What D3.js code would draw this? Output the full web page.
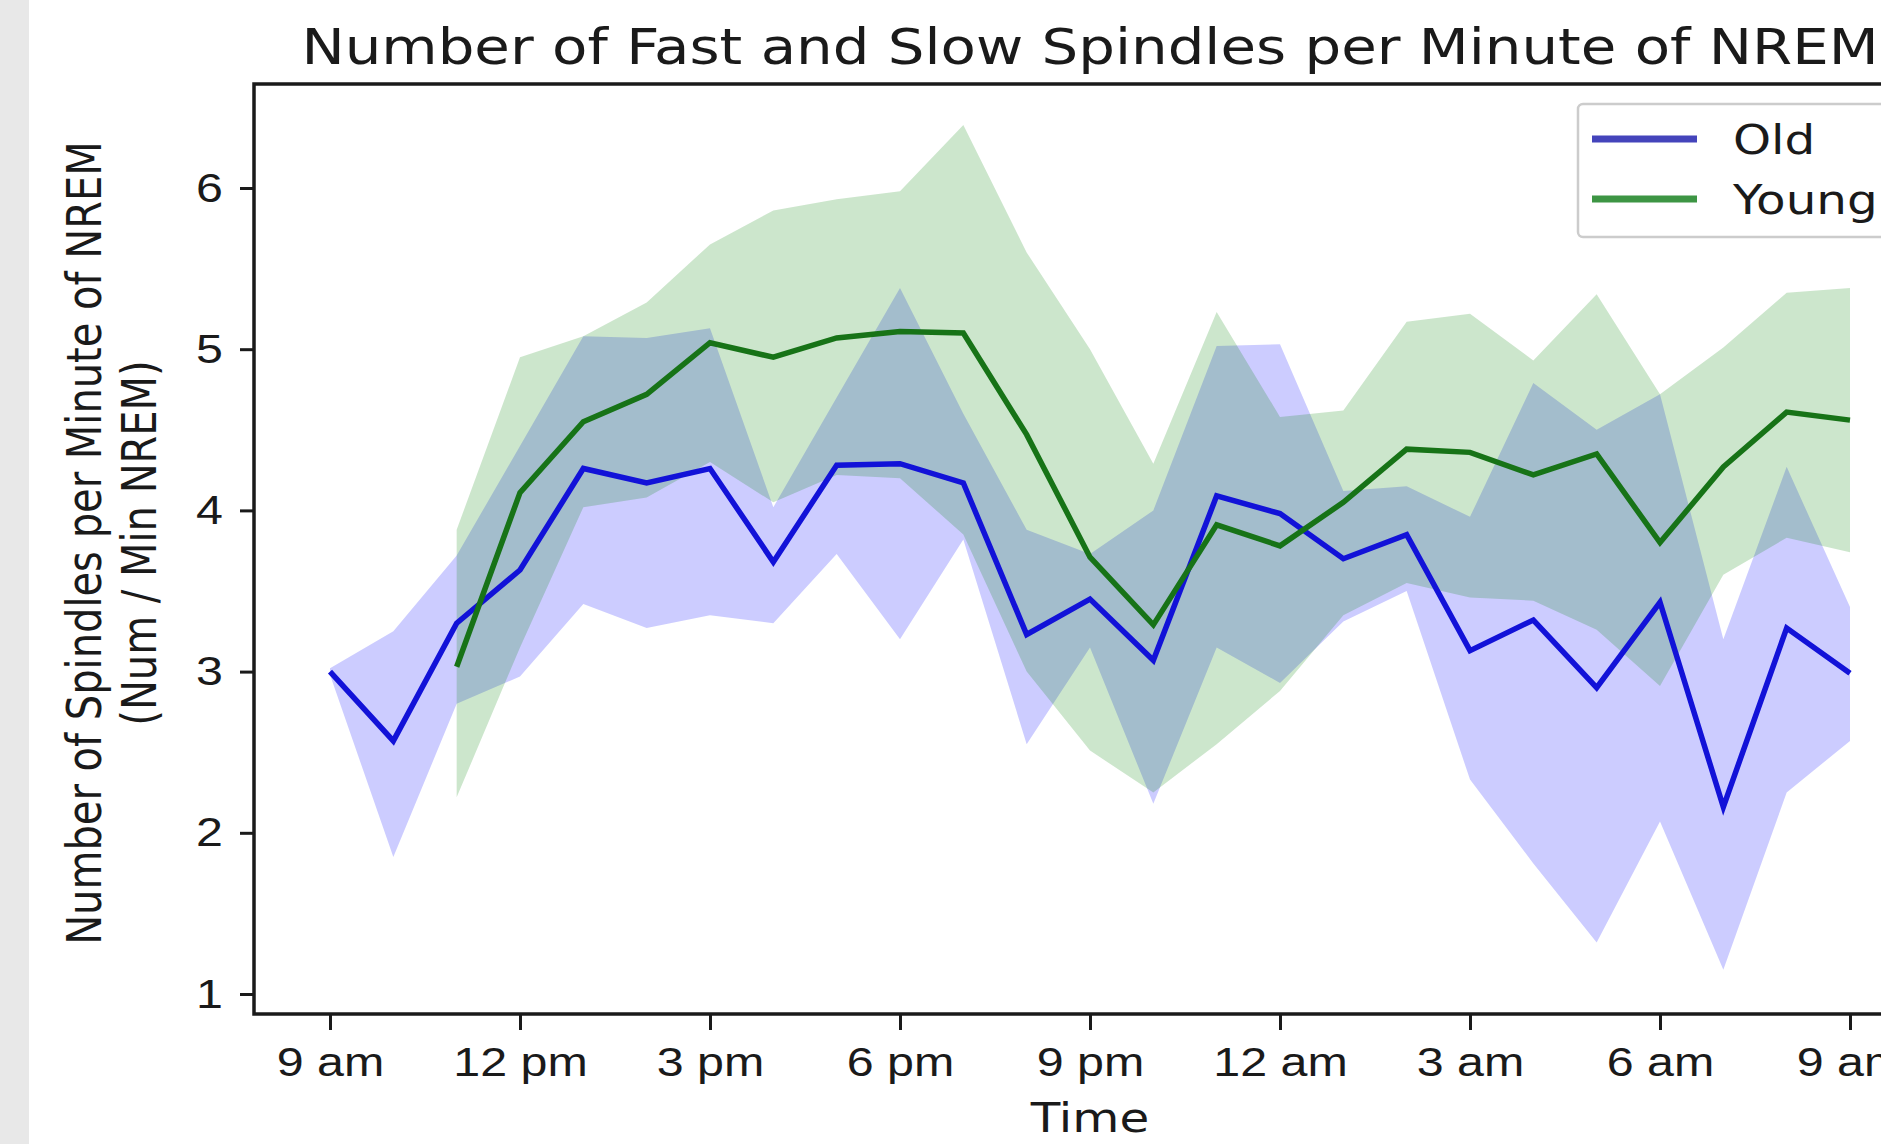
<!DOCTYPE html>
<html>
<head>
<meta charset="utf-8">
<script src="https://cdn.jsdelivr.net/npm/d3@7"></script>
<style>
  body { margin: 0; background: #fff; overflow: hidden; }
  svg { display: block; font-family: "DejaVu Sans", sans-serif; }
</style>
</head>
<body>
<div id="chart"><svg width="1881" height="1144"></svg></div>
<script>
// Hours after 9 am
let hours = [0, 1, 2, 3, 4, 5, 6, 7, 8, 9, 10, 11, 12, 13, 14, 15, 16, 17, 18, 19, 20, 21, 22, 23, 24];
let youngHours = [2, 3, 4, 5, 6, 7, 8, 9, 10, 11, 12, 13, 14, 15, 16, 17, 18, 19, 20, 21, 22, 23, 24];

// Old: mean and confidence band
let oldMean = [3.00, 2.57, 3.30, 3.63, 4.26, 4.17, 4.26, 3.68, 4.28, 4.29, 4.17, 3.23, 3.45,
  3.07, 4.09, 3.98, 3.70, 3.85, 3.13, 3.32, 2.90, 3.43, 2.16, 3.27, 2.99];
let oldLower = [2.98, 1.85, 2.80, 2.97, 3.42, 3.27, 3.35, 3.30, 3.73, 3.20, 3.82, 2.55, 3.15,
  2.18, 3.15, 2.93, 3.31, 3.50, 2.33, 1.81, 1.32, 2.07, 1.15, 2.25, 2.57];
let oldUpper = [3.02, 3.25, 3.72, 4.40, 5.08, 5.07, 5.13, 4.02, 4.70, 5.38, 4.60, 3.88, 3.73,
  4.00, 5.02, 5.03, 4.12, 4.15, 3.96, 4.79, 4.50, 4.72, 3.20, 4.27, 3.40];

// Young: mean and confidence band
let youngMean = [3.03, 4.11, 4.55, 4.72, 5.04, 4.95, 5.07, 5.11, 5.10, 4.47, 3.71, 3.29,
  3.91, 3.78, 4.05, 4.38, 4.36, 4.22, 4.35, 3.80, 4.27, 4.61, 4.56];
let youngLower = [2.22, 3.15, 4.02, 4.08, 4.30, 4.05, 4.22, 4.20, 3.85, 3.00, 2.51, 2.25,
  2.55, 2.88, 3.35, 3.55, 3.46, 3.44, 3.26, 2.91, 3.60, 3.83, 3.74];
let youngUpper = [3.88, 4.95, 5.08, 5.29, 5.65, 5.86, 5.93, 5.98, 6.39, 5.60, 5.00, 4.29,
  5.23, 4.58, 4.62, 5.17, 5.22, 4.93, 5.34, 4.72, 5.01, 5.35, 5.38];

// Ticks
let xTicks = [0, 3, 6, 9, 12, 15, 18, 21, 24];
let xTickLabels = ["9 am", "12 pm", "3 pm", "6 pm", "9 pm", "12 am", "3 am", "6 am", "9 am"];
let yTicks = [1, 2, 3, 4, 5, 6];

let colors = {
  "old": "#1212d8",
  "young": "#177317",
  "oldBand": "rgba(0, 0, 255, 0.2)",
  "youngBand": "rgba(0, 128, 0, 0.2)",
  "oldLegend": "#4444bb",
  "youngLegend": "#3d9544",
  "ink": "#1a1a1a"
};

// the picture is stretched sideways, so glyphs get widened
let sx = 1.18;

let svg = d3.select("div#chart svg"),
  margin = { top: 84, left: 254 },
  width = 1672,
  height = 930;

// gray strip on the far left
svg.append("rect")
  .attr("width", 29)
  .attr("height", 1144)
  .attr("fill", "#e8e8e8");

let g = svg.append("g").attr("transform", "translate(" + margin.left + "," + margin.top + ")");

let x = d3.scaleLinear().domain([-1.2, 25.2]).range([0, width]);
let y = d3.scaleLinear().domain([0.876, 6.645]).range([height, 0]);

let oldRows = hours.map((h, i) => ({ h: h, mean: oldMean[i], lo: oldLower[i], hi: oldUpper[i] }));
let youngRows = youngHours.map((h, i) => ({ h: h, mean: youngMean[i], lo: youngLower[i], hi: youngUpper[i] }));

let area = d3.area()
  .x(d => x(d.h))
  .y0(d => y(d.lo))
  .y1(d => y(d.hi));

let line = d3.line()
  .x(d => x(d.h))
  .y(d => y(d.mean));

// Bands (under the lines, young over old)
g.append("path").datum(oldRows).attr("d", area).attr("fill", colors.oldBand);
g.append("path").datum(youngRows).attr("d", area).attr("fill", colors.youngBand);

// Lines
g.append("path").datum(oldRows).attr("d", line)
  .attr("fill", "none").attr("stroke", colors.old).attr("stroke-width", 5.5)
  .attr("stroke-linejoin", "miter");
g.append("path").datum(youngRows).attr("d", line)
  .attr("fill", "none").attr("stroke", colors.young).attr("stroke-width", 5.5)
  .attr("stroke-linejoin", "miter");

// X axis
let xAxis = g.append("g")
  .attr("transform", "translate(0," + height + ")")
  .call(d3.axisBottom(x)
    .tickValues(xTicks)
    .tickFormat((d, i) => xTickLabels[i])
    .tickSizeInner(16)
    .tickSizeOuter(0)
    .tickPadding(17));
xAxis.select(".domain").remove();
xAxis.selectAll("line").attr("stroke", colors.ink).attr("stroke-width", 3);
xAxis.selectAll("text")
  .style("font-size", "41px")
  .attr("fill", colors.ink)
  .attr("transform", "scale(" + sx + ",1)");

// Y axis
let yAxis = g.append("g")
  .call(d3.axisLeft(y)
    .tickValues(yTicks)
    .tickFormat(d3.format("d"))
    .tickSizeInner(14)
    .tickSizeOuter(0)
    .tickPadding(17));
yAxis.select(".domain").remove();
yAxis.selectAll("line").attr("stroke", colors.ink).attr("stroke-width", 3);
yAxis.selectAll("text")
  .style("font-size", "41px")
  .attr("fill", colors.ink)
  .attr("x", -31 / sx)
  .attr("transform", "scale(" + sx + ",1)");

// Frame
g.append("rect")
  .attr("width", width)
  .attr("height", height)
  .attr("fill", "none")
  .attr("stroke", colors.ink)
  .attr("stroke-width", 3.5);

// Title
svg.append("text")
  .attr("transform", "translate(" + (margin.left + width / 2) + ",64) scale(" + sx + ",1)")
  .attr("text-anchor", "middle")
  .style("font-size", "49px")
  .attr("fill", colors.ink)
  .text("Number of Fast and Slow Spindles per Minute of NREM");

// X label
svg.append("text")
  .attr("transform", "translate(" + (margin.left + width / 2) + ",1132) scale(" + sx + ",1)")
  .attr("text-anchor", "middle")
  .style("font-size", "41px")
  .attr("fill", colors.ink)
  .text("Time");

// Y label, two lines
let yLabel = ["Number of Spindles per Minute of NREM", "(Num / Min NREM)"];
let yLabelX = [101, 156];
yLabel.forEach((txt, i) => {
  svg.append("text")
    .attr("transform", "translate(" + yLabelX[i] + "," + (margin.top + height / 2 - 6) + ") scale(" + sx + ",1) rotate(-90)")
    .attr("text-anchor", "middle")
    .style("font-size", "40px")
    .attr("fill", colors.ink)
    .text(txt);
});

// Legend
let legend = svg.append("g").attr("class", "legend");
legend.append("rect")
  .attr("x", 1578)
  .attr("y", 104)
  .attr("width", 340)
  .attr("height", 133)
  .attr("rx", 5)
  .attr("fill", "rgba(255,255,255,0.8)")
  .attr("stroke", "#cccccc")
  .attr("stroke-width", 2.5);

let legendItems = [
  { label: "Old", color: colors.oldLegend, y: 139 },
  { label: "Young", color: colors.youngLegend, y: 199 }
];
legendItems.forEach(item => {
  legend.append("line")
    .attr("x1", 1592)
    .attr("x2", 1697)
    .attr("y1", item.y)
    .attr("y2", item.y)
    .attr("stroke", item.color)
    .attr("stroke-width", 7);
  legend.append("text")
    .attr("transform", "translate(1733," + (item.y + 15) + ") scale(" + sx + ",1)")
    .style("font-size", "41px")
    .attr("fill", colors.ink)
    .text(item.label);
});
</script>
</body>
</html>
